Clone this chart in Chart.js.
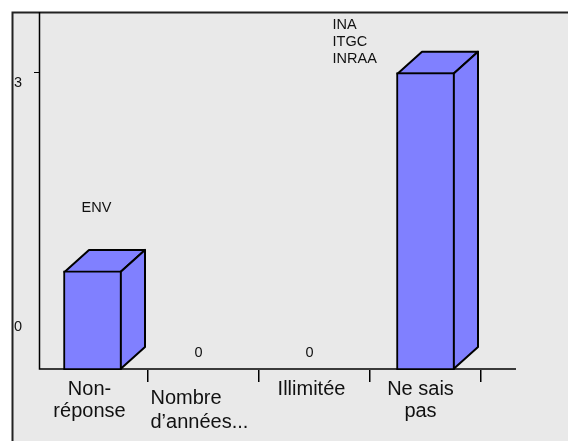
<!DOCTYPE html>
<html>
<head>
<meta charset="utf-8">
<script src="https://cdn.jsdelivr.net/npm/chart.js"></script>
<style>
  html, body { margin: 0; padding: 0; background: #fff; }
  #wrap { position: relative; width: 568px; height: 441px; }
</style>
</head>
<body>
<div id="wrap"><canvas id="chart" width="568" height="441"></canvas></div>
<script>
const categories = ['Non-réponse', "Nombre d’années...", 'Illimitée', 'Ne sais pas'];
const values = [1, 0, 0, 3];
const barNotes = [['ENV'], ['0'], ['0'], ['INA', 'ITGC', 'INRAA']];
const categoryLines = [['Non-', 'réponse'], ['Nombre', 'd’années...'], ['Illimitée'], ['Ne sais', 'pas']];
const yTickValues = [3];
const yTickLabels = ['0', '3'];

const FONT = '"Liberation Sans", Arial, sans-serif';
const BG = '#e9e9e9';
const BAR = '#8080ff';
const DEPTH_X = 24.5;
const DEPTH_Y = 22;

// 背景と枠線
const framePlugin = {
  id: 'frame',
  beforeDraw(chart) {
    const { ctx, width, height } = chart;
    ctx.save();
    ctx.fillStyle = '#fff';
    ctx.fillRect(0, 0, width, height);
    ctx.fillStyle = BG;
    ctx.fillRect(12, 12, width - 12, height - 12);
    ctx.strokeStyle = '#222';
    ctx.lineWidth = 2;
    ctx.beginPath();
    ctx.moveTo(12.5, height);
    ctx.lineTo(12.5, 12.5);
    ctx.lineTo(width, 12.5);
    ctx.stroke();
    ctx.restore();
  }
};

// 軸線（棒の後ろ）と棒の側面
const axesAndDepthPlugin = {
  id: 'axesAndDepth',
  beforeDatasetsDraw(chart) {
    const { ctx, scales: { x, y } } = chart;
    const bars = chart.getDatasetMeta(0).data;
    ctx.save();
    ctx.strokeStyle = '#000';
    ctx.lineWidth = 1.5;
    ctx.beginPath();
    ctx.moveTo(39.5, 12);
    ctx.lineTo(39.5, y.bottom - 1);
    ctx.lineTo(516, y.bottom - 1);
    ctx.stroke();
    ctx.lineWidth = 1;
    yTickValues.forEach(v => {
      const py = Math.round(y.getPixelForValue(v)) - 0.5;
      ctx.beginPath();
      ctx.moveTo(34, py);
      ctx.lineTo(39, py);
      ctx.stroke();
    });
    ctx.lineWidth = 2;
    ctx.lineJoin = 'round';
    ctx.fillStyle = BAR;
    bars.forEach((bar, i) => {
      if (!values[i]) return;
      const l = bar.x - bar.width / 2 + 1;
      const r = bar.x + bar.width / 2 - 1;
      const t = bar.y + 1;
      const b = bar.base - 1;
      ctx.beginPath();
      ctx.moveTo(l, t);
      ctx.lineTo(l + DEPTH_X, t - DEPTH_Y);
      ctx.lineTo(r + DEPTH_X, t - DEPTH_Y);
      ctx.lineTo(r, t);
      ctx.closePath();
      ctx.fill();
      ctx.stroke();
      ctx.beginPath();
      ctx.moveTo(r, t);
      ctx.lineTo(r + DEPTH_X, t - DEPTH_Y);
      ctx.lineTo(r + DEPTH_X, b - DEPTH_Y);
      ctx.lineTo(r, b);
      ctx.closePath();
      ctx.fill();
      ctx.stroke();
    });
    ctx.restore();
  }
};

// 文字ラベル
const labelsPlugin = {
  id: 'labels',
  afterDatasetsDraw(chart) {
    const { ctx, scales: { x, y } } = chart;
    const axisY = y.bottom - 1;
    ctx.save();
    ctx.fillStyle = '#111';
    ctx.textBaseline = 'middle';

    // カテゴリ名
    const centerShift = [-3, 0, -3, -5];
    ctx.font = '20px ' + FONT;
    categoryLines.forEach((lines, i) => {
      const cx = x.getPixelForValue(i);
      lines.forEach((line, j) => {
        if (i === 1) {
          ctx.textAlign = 'left';
          ctx.fillText(line, cx - 53, axisY + 29 + j * 24);
        } else {
          ctx.textAlign = 'center';
          ctx.fillText(line, cx + centerShift[i], axisY + 20 + j * 22);
        }
      });
    });

    // 棒の注記
    ctx.font = '14.5px ' + FONT;
    barNotes.forEach((lines, i) => {
      const cx = x.getPixelForValue(i);
      lines.forEach((line, j) => {
        if (i === 0) {
          ctx.textAlign = 'left';
          ctx.fillText(line, cx - 11, y.getPixelForValue(values[i]) - 63);
        } else if (i === 3) {
          ctx.textAlign = 'left';
          ctx.fillText(line, cx - 93, y.getPixelForValue(values[i]) - 48 + j * 17);
        } else {
          ctx.textAlign = 'center';
          ctx.fillText(line, cx - 5, axisY - 16);
        }
      });
    });

    // 縦軸の目盛りラベル（元図どおり目盛りからずれた位置）
    ctx.textAlign = 'left';
    ctx.fillText(yTickLabels[1], 14, y.getPixelForValue(3) + 10);
    ctx.fillText(yTickLabels[0], 14, axisY - 42);
    ctx.restore();
  }
};

new Chart(document.getElementById('chart'), {
  type: 'bar',
  data: {
    labels: categories,
    datasets: [{
      data: values,
      backgroundColor: BAR,
      borderColor: '#000',
      borderWidth: 2,
      barThickness: 58,
      borderSkipped: false
    }]
  },
  plugins: [framePlugin, axesAndDepthPlugin, labelsPlugin],
  options: {
    responsive: false,
    animation: false,
    layout: { padding: { left: 37, right: 87, top: 12, bottom: 0 } },
    plugins: { legend: { display: false }, tooltip: { enabled: false } },
    scales: {
      x: {
        border: { display: false },
        grid: {
          offset: true,
          drawOnChartArea: false,
          tickLength: 12,
          lineWidth: 1.5,
          color: ctx => (ctx.index === 0 ? 'transparent' : '#000')
        },
        ticks: { color: 'transparent', font: { size: 20 }, padding: 0, maxRotation: 0, autoSkip: false, callback: () => '' },
        afterFit: s => { s.height = 71; }
      },
      y: {
        display: false,
        min: 0,
        max: 3.612,
        ticks: { stepSize: 3 }
      }
    }
  }
});
</script>
</body>
</html>
